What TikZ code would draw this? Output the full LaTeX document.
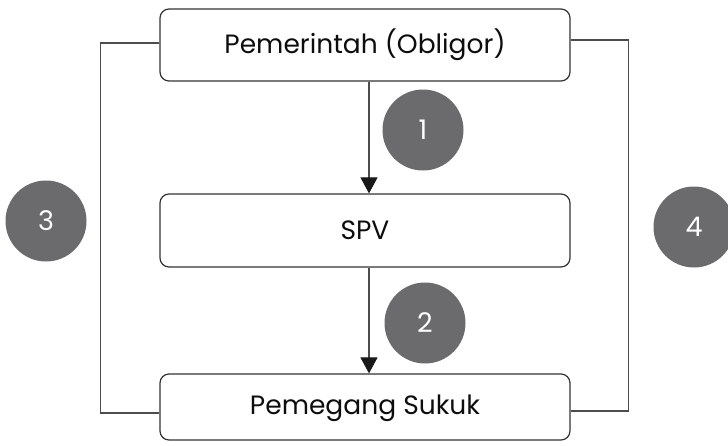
\documentclass[tikz,border=0pt]{standalone}
\usepackage{fontspec}
\setmainfont{Poppins}
\usetikzlibrary{arrows.meta}
\definecolor{numgray}{HTML}{6B6B6D}
\begin{document}
\begin{tikzpicture}[x=1pt,y=-1pt,
 box/.style={draw=black!80, line width=1.2pt, rounded corners=9pt, minimum width=410pt, inner sep=0pt, font=\fontsize{26.5}{30}\selectfont, text=black!95},
 num/.style={circle, fill=numgray, minimum size=81pt, inner sep=0pt, text=white, font=\fontsize{27}{30}\selectfont},
 conn/.style={draw=black!70, line width=1.1pt},
 arr/.style={conn, -{Triangle[length=16pt,width=17pt,color=black!90]}}]
\useasboundingbox (0,0) rectangle (728,445);
\node[box, minimum height=72pt] (gov) at (365,45) {Pemerintah (Obligor)};
\node[box, minimum height=73pt] (spv) at (365,230.5) {SPV};
\node[box, minimum height=66pt, text depth=4pt] (hold) at (365,407) {Pemegang Sukuk};
\draw[arr] ([xshift=4pt]gov.south) -- ([xshift=4pt]spv.north);
\draw[arr] ([xshift=4pt]spv.south) -- ([xshift=4pt]hold.north);
\draw[conn] ([yshift=2pt]gov.west) -- ++(-59,0) |- ([yshift=-6pt]hold.west);
\draw[conn] ([yshift=5pt]gov.east) -- ++(58,0) |- ([yshift=-4pt]hold.east);
\node[num] (n1) at (423,130) {1};
\node[num] (n2) at (425,323) {2};
\node[num] (n3) at (46,221) {3};
\node[num] (n4) at (694,227) {4};
\end{tikzpicture}
\end{document}
